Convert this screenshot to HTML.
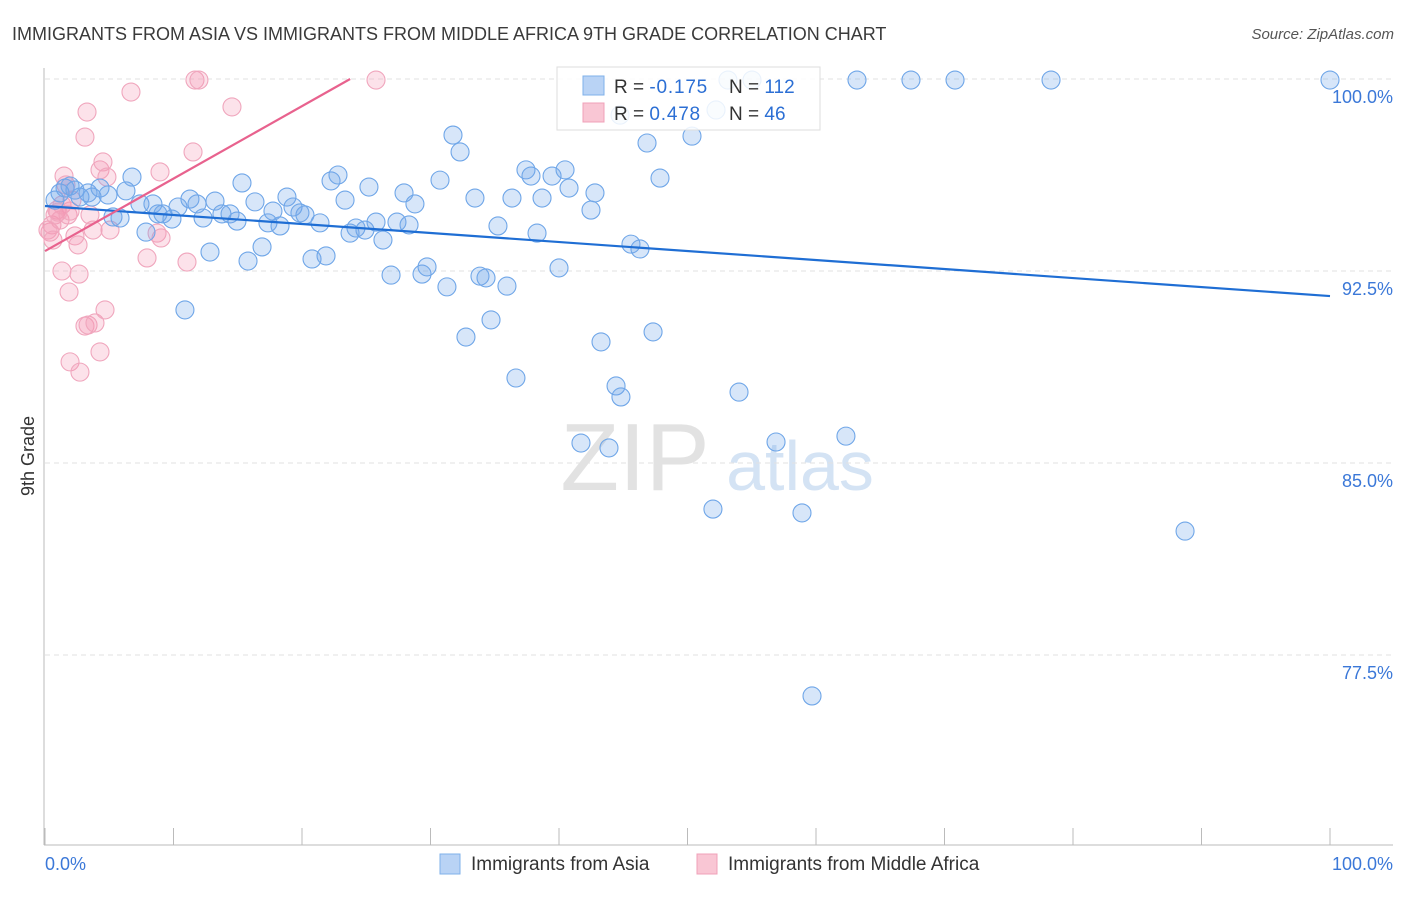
<!DOCTYPE html>
<html><head><meta charset="utf-8"><style>
body{margin:0;background:#fff;font-family:"Liberation Sans",sans-serif;}
svg text{font-family:"Liberation Sans",sans-serif;}
</style></head><body>
<svg id="chart" width="1406" height="892" viewBox="0 0 1406 892">
<text x="12" y="40" font-size="18" fill="#3a3a3a">IMMIGRANTS FROM ASIA VS IMMIGRANTS FROM MIDDLE AFRICA 9TH GRADE CORRELATION CHART</text>
<text x="1394" y="39" font-size="15" fill="#555" font-style="italic" text-anchor="end">Source: ZipAtlas.com</text>
<text x="34" y="456" font-size="18" fill="#333" text-anchor="middle" transform="rotate(-90 34 456)">9th Grade</text>
<g><text x="635" y="490" font-size="96" fill="#e2e2e2" font-family="Liberation Serif" text-anchor="middle">ZIP</text><text x="800" y="490" font-size="70" fill="#d4e3f4" text-anchor="middle">atlas</text></g>
<g id="grid"></g>
<g id="marks"></g>
<g id="lines"></g>
<g>
<rect x="557" y="67" width="263" height="63" fill="#fff" fill-opacity="0.85" stroke="#ddd"/>
<rect x="583" y="76" width="21" height="19" fill="#b9d3f5" stroke="#7fb0ea"/>
<rect x="583" y="103" width="21" height="19" fill="#f9c6d4" stroke="#f0a0b8"/>
<text x="614" y="93" font-size="19" fill="#333">R = <tspan fill="#2c6fd4" letter-spacing="0.8">-0.175</tspan></text>
<text x="729" y="93" font-size="19" fill="#333">N = <tspan fill="#2c6fd4">112</tspan></text>
<text x="614" y="120" font-size="19" fill="#333">R = <tspan fill="#2c6fd4" letter-spacing="0.8"> 0.478</tspan></text>
<text x="729" y="120" font-size="19" fill="#333">N = <tspan fill="#2c6fd4"> 46</tspan></text>
</g>
<g>
<rect x="440" y="854" width="20" height="20" fill="#b9d3f5" stroke="#7fb0ea"/>
<text x="471" y="870" font-size="19" fill="#333">Immigrants from Asia</text>
<rect x="697" y="854" width="20" height="20" fill="#f9c6d4" stroke="#f0a0b8"/>
<text x="728" y="870" font-size="19" fill="#333">Immigrants from Middle Africa</text>
</g>
<text x="45" y="870" font-size="18" fill="#3b78d8">0.0%</text>
<text x="1393" y="870" font-size="18" fill="#3b78d8" text-anchor="end">100.0%</text>
</svg>
<script>
const yTicks=[100,92.5,85,77.5];
const yTickLabels=["100.0%","92.5%","85.0%","77.5%"];
const xTicks=[0,10,20,30,40,50,60,70,80,90,100];
const asiaX=[0.78,1.17,1.56,1.95,2.33,2.72,3.35,3.66,4.28,4.90,5.29,5.84,6.30,6.77,7.39,7.86,8.40,8.79,9.18,9.88,10.35,10.89,11.28,11.83,12.30,12.84,13.23,13.77,14.40,14.94,15.33,15.80,16.34,16.89,17.35,17.74,18.29,18.83,19.30,19.84,20.23,20.78,21.40,21.87,22.26,22.80,23.35,23.74,24.20,24.90,25.21,25.76,26.30,26.93,27.39,27.94,28.33,28.79,29.34,29.73,30.74,31.28,31.75,32.30,32.76,33.46,33.85,34.32,34.71,35.25,35.95,36.34,36.65,37.43,37.82,38.29,38.68,39.46,40.00,40.47,40.78,41.71,42.49,42.80,43.27,43.89,44.44,44.82,45.60,46.30,46.85,47.32,47.86,50.35,51.98,52.22,53.15,54.01,56.89,58.91,59.69,62.33,63.19,67.39,70.82,78.29,88.72,100,44.75,55.02];
const asiaY=[95.27,95.55,95.74,95.82,95.66,95.39,95.55,95.39,95.74,95.47,94.61,94.57,95.63,96.17,95.12,94.02,95.12,94.73,94.73,94.53,95.00,90.98,95.31,95.12,94.57,93.24,95.23,94.73,94.73,94.45,95.94,92.89,95.20,93.44,94.38,94.84,94.26,95.39,95.00,94.77,94.69,92.97,94.38,93.09,96.02,96.25,95.27,93.98,94.18,94.10,95.78,94.41,93.71,92.34,94.41,95.55,94.30,95.12,92.38,92.66,96.05,91.88,97.81,97.15,89.92,95.35,92.30,92.23,90.59,94.26,91.91,95.35,88.32,96.45,96.21,93.98,95.35,96.21,92.62,96.45,95.74,85.78,94.88,95.55,89.73,85.59,88.01,87.58,93.55,93.36,97.50,90.12,96.13,97.77,83.20,98.79,99.96,87.77,85.82,83.05,75.90,86.05,99.96,99.96,99.96,99.96,82.34,99.96,98.59,99.96];
const africaX=[0.39,0.54,0.78,0.93,1.17,1.32,1.48,1.63,1.79,1.95,2.10,2.33,2.57,2.65,3.11,3.27,4.28,4.51,4.82,5.06,3.74,3.50,1.32,1.87,1.95,2.72,3.11,3.35,3.89,4.28,4.67,6.69,7.94,8.72,8.95,9.03,11.05,11.52,11.67,11.98,14.55,25.76,0.23,0.62,1.01];
const africaY=[94.02,94.30,94.69,94.88,94.49,95.08,96.21,95.86,94.69,94.84,95.27,93.87,93.52,92.38,97.73,98.71,96.45,96.76,96.17,94.10,94.10,94.69,92.50,91.68,88.95,88.55,90.35,90.39,90.47,89.34,90.98,99.49,93.01,93.98,96.37,93.79,92.85,97.15,99.96,99.96,98.91,99.96,94.10,93.71,94.80];
const asiaFit=[95.04,-0.0352];
const africaFit=[93.28,0.283];
const NS="http://www.w3.org/2000/svg";
const X0=45,X1=1330,Y100=79,PXPER=25.6;
function sx(v){return X0+(X1-X0)*v/100;}
function sy(v){return Y100+(100-v)*PXPER;}
function mk(tag,attrs,parent){const e=document.createElementNS(NS,tag);for(const k in attrs)e.setAttribute(k,attrs[k]);parent.appendChild(e);return e;}
const grid=document.getElementById('grid');
yTicks.forEach((t,i)=>{
 const l=mk('line',{x1:45,x2:1393,y1:sy(t),y2:sy(t),stroke:'#e2e2e2','stroke-dasharray':'5,4'},grid);
 
 
 const tx=mk('text',{x:1393,y:sy(t)+24,'font-size':18,fill:'#3b78d8','text-anchor':'end'},grid);
 tx.textContent=yTickLabels[i];
 
 
});
const ax=mk('line',{x1:44,x2:44,y1:68,y2:845,stroke:'#bbb'},grid);


const bx=mk('line',{x1:44,x2:1393,y1:845,y2:845,stroke:'#bbb'},grid);


xTicks.forEach(t=>{
 const l=mk('line',{x1:sx(t),x2:sx(t),y1:828,y2:845,stroke:'#bbb'},grid);
 
 
});
const marks=document.getElementById('marks');
africaX.forEach((x,i)=>{
 const c=mk('circle',{cx:sx(x),cy:sy(africaY[i]),r:9,fill:'rgba(244,150,180,0.28)',stroke:'#f0a6bd','stroke-width':1.1},marks);
 
 
});
asiaX.forEach((x,i)=>{
 const c=mk('circle',{cx:sx(x),cy:sy(asiaY[i]),r:9,fill:'rgba(110,165,235,0.28)',stroke:'#6fa6e8','stroke-width':1.1},marks);
 
 
});
const lines=document.getElementById('lines');
const la=mk('line',{x1:sx(0),y1:sy(asiaFit[0]),x2:sx(100),y2:sy(asiaFit[0]+asiaFit[1]*100),stroke:'#1f6ed4','stroke-width':2.2},lines);


const xe=(100-africaFit[0])/africaFit[1];
const lf=mk('line',{x1:sx(0),y1:sy(africaFit[0]),x2:sx(xe),y2:sy(100),stroke:'#e8628e','stroke-width':2.2},lines);


</script>
</body></html>
